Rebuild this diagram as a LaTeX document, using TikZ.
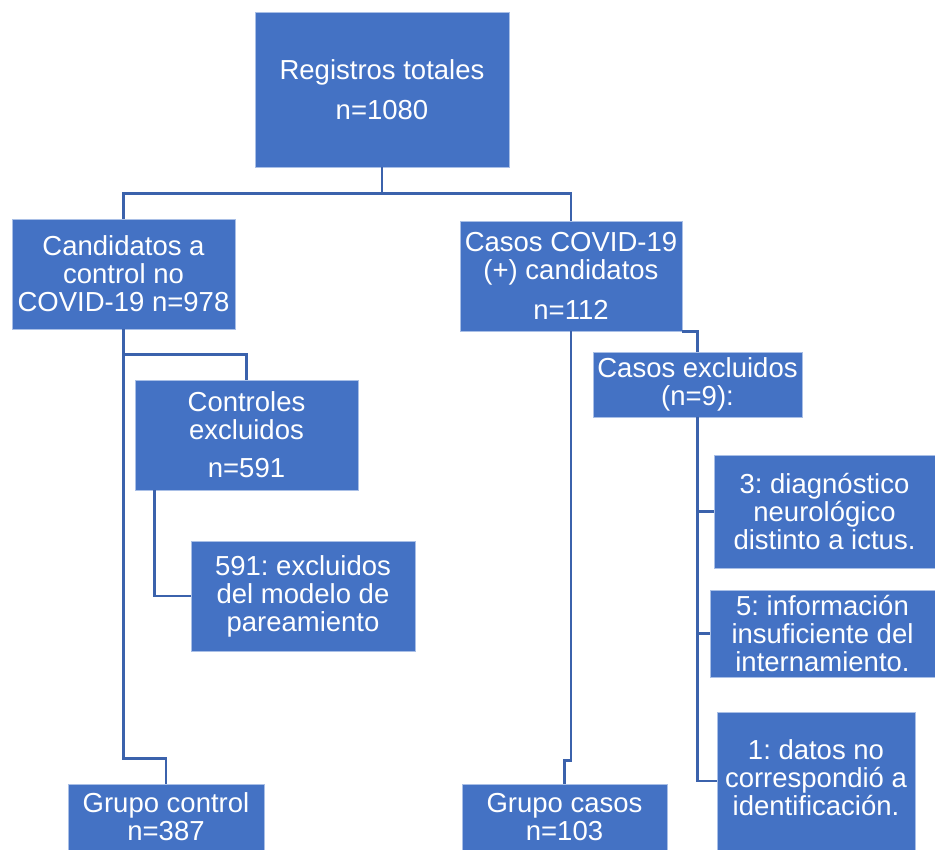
\documentclass[tikz,border=0pt]{standalone}
\usepackage{fontspec}
\setmainfont{Liberation Sans}
\frenchspacing
\definecolor{boxblue}{HTML}{4472C4}
\definecolor{boxedge}{HTML}{A9BFE6}
\definecolor{linkblue}{HTML}{3B62AC}
\tikzset{
  box/.style={fill=boxblue, draw=boxedge, line width=0.8pt, text=white, align=center,
    inner sep=0pt, font=\fontsize{27.5}{28}\selectfont},
  link/.style={draw=linkblue, line width=2.5pt}
}
\begin{document}
\begin{tikzpicture}[x=1pt, y=-1pt]
    \useasboundingbox (0, 0) rectangle (935, 850);
    \node[box, minimum width=254, minimum height=155] (total) at (382, 89.5) {Registros totales\\[12pt] n=1080};
    \node[box, minimum width=223, minimum height=110] (cand) at (123.5, 274) {Candidatos a\\ control no\\ COVID-19 n=978};
    \node[box, minimum width=222, minimum height=110] (covid) at (571, 276) {Casos COVID-19\\ (+) candidatos\\[12pt] n=112};
    \node[box, minimum width=223, minimum height=110] (ctlx) at (246.5, 435) {Controles\\ excluidos\\[10pt] n=591};
    \node[box, minimum width=224, minimum height=110] (pair) at (303, 596) {591: excluidos\\ del modelo de\\ pareamiento};
    \node[box, minimum width=196, minimum height=66] (gctl) at (166, 817) {Grupo control\\ n=387};
    \node[box, minimum width=209, minimum height=65] (casex) at (697.5, 384.5) {Casos excluidos\\ (n=9):};
    \node[box, minimum width=221, minimum height=113] (diag) at (824.5, 511.5) {3: diagnóstico\\ neurológico\\ distinto a ictus.};
    \node[box, minimum width=225, minimum height=87] (info) at (822.5, 633.5) {5: información\\ insuficiente del\\ internamiento.};
    \node[box, minimum width=198, minimum height=138, text height=70pt] (datos) at (816, 781) {1: datos no\\ correspondió a\\ identificación.};
    \node[box, minimum width=205, minimum height=66] (gcase) at (564.5, 817) {Grupo casos\\ n=103};

    \draw[link] (total.south) -- ++(0, 26) -| (cand.north);
    \draw[link] (total.south) -- ++(0, 26) -| (covid.north);
    \draw[link] (cand.south) -- ++(0, 25) -| (ctlx.north);
    \draw[link] (cand.south) -- ++(0, 429) -| (gctl.north);
    \draw[link] ([xshift=20pt]ctlx.south west) |- (pair.west);
    \draw[link] (covid.south) -- ++(0, 429) -| (gcase.north);
    \draw[link] (covid.south east) -| (casex.north);
    \draw[link] (casex.south) |- (diag.west);
    \draw[link] (casex.south) |- (info.west);
    \draw[link] (casex.south) |- (datos.west);
\end{tikzpicture}
\end{document}
